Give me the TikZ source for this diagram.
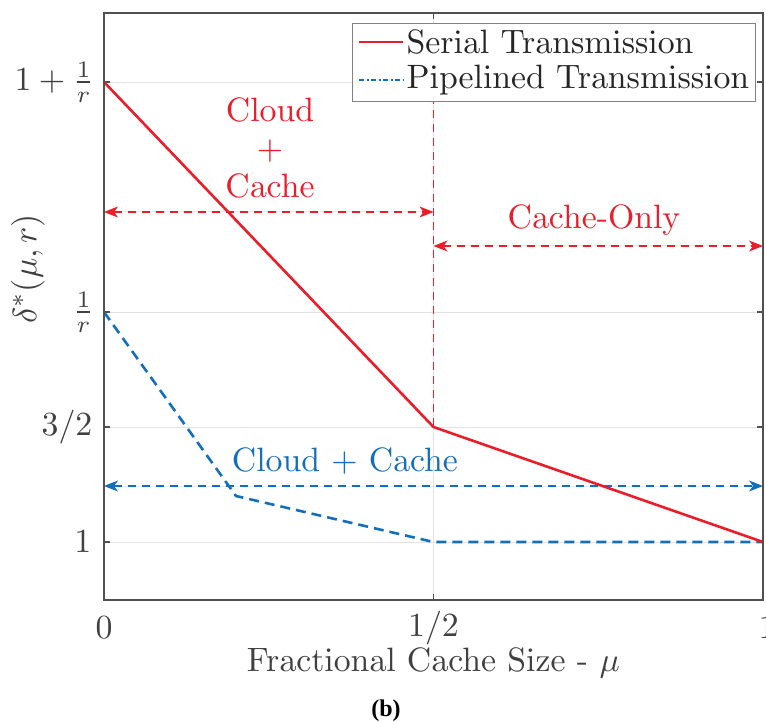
\documentclass[tikz,border=0pt]{standalone}
\usepackage[no-math]{fontspec}
\newfontfamily\capfont{Liberation Serif}
\usetikzlibrary{arrows.meta}

\definecolor{serialred}{RGB}{234,30,42}
\definecolor{pipeblue}{RGB}{20,110,190}
\definecolor{axisgray}{RGB}{80,80,80}
\definecolor{labelgray}{RGB}{64,64,64}
\definecolor{gridgray}{RGB}{226,226,226}
\definecolor{legendgray}{RGB}{130,130,130}

% Computer Modern at its 10pt design size, enlarged as a whole
\newcommand{\plotfont}{\fontencoding{OT1}\fontfamily{cmr}\fontseries{m}\fontshape{n}\fontsize{10}{11.3}\selectfont}

\tikzset{
  big/.style={font=\plotfont, scale=3.38},
  ticklab/.style={big, text=labelgray, inner sep=0pt},
  gridline/.style={draw=gridgray, line width=0.9pt},
  axisline/.style={draw=axisgray, line width=1.2pt},
  tickmark/.style={draw=axisgray, line width=1.2pt},
  serialcurve/.style={draw=serialred, line width=2.6pt, line join=round},
  pipecurve/.style={draw=pipeblue, line width=2.6pt, dash pattern=on 10pt off 6pt, line join=round},
  regionarrow/.style={line width=1.2pt, dash pattern=on 8pt off 6pt,
    {Stealth[length=14pt,width=11pt,inset=4pt]}-{Stealth[length=14pt,width=11pt,inset=4pt]}},
  regionline/.style={line width=1.2pt, dash pattern=on 8pt off 6pt},
}

\begin{document}
\begin{tikzpicture}[x=1pt, y=-1pt]
\useasboundingbox (0,0) rectangle (766,722);

% plot frame corners (pixel-like units, y grows downwards)
\coordinate (BL) at (104,600);
\coordinate (TR) at (763,13);

% grid
\foreach \yy in {82,312,427,542} \draw[gridline] (104,\yy) -- (763,\yy);
\draw[gridline] (433.5,13) -- (433.5,600);

% tick marks (inside, on all four sides)
\foreach \yy in {82,312,427,542} {
  \draw[tickmark] (104,\yy) -- (110,\yy);
  \draw[tickmark] (763,\yy) -- (757,\yy);
}
\draw[tickmark] (433.5,600) -- (433.5,594);
\draw[tickmark] (433.5,13) -- (433.5,19);

% data points
\coordinate (s0) at (104,82);
\coordinate (s1) at (433.5,427);
\coordinate (s2) at (763,542);
\coordinate (p0) at (104,312);
\coordinate (p1) at (236,496);
\coordinate (p2) at (433.5,542);
\coordinate (p3) at (763,542);

% pipelined transmission
\draw[pipecurve] (p0) -- (p1) -- (p2) -- (p3);

% region separator and region arrows
\coordinate (vtop) at (433.5,82);
\draw[regionline, draw=serialred] (vtop) -- (s1);

\coordinate (ra) at (104,212);
\coordinate (rb) at (433.5,212);
\coordinate (rc) at (433.5,246);
\coordinate (rd) at (763,246);
\coordinate (ba) at (104,486);
\coordinate (bb) at (763,486);
\draw[regionarrow, draw=serialred, fill=serialred] (ra) -- (rb);
\draw[regionarrow, draw=serialred, fill=serialred] (rc) -- (rd);
\draw[regionarrow, draw=pipeblue, fill=pipeblue] (ba) -- (bb);

% serial transmission
\draw[serialcurve] (s0) -- (s1) -- (s2);

% region labels
\node[big, text=serialred, align=center, inner sep=0pt] (cloudcache1) at (270,148)
  {Cloud\\$+$\\Cache};
\node[big, text=serialred, inner sep=0pt] (cacheonly) at (594,220) {Cache-Only};
\node[big, text=pipeblue, inner sep=0pt] (cloudcache2) at (345,461) {Cloud $+$ Cache};

% y tick labels
\node[ticklab, anchor=east] (y3) at (95,82) {$1+\frac{1}{r}$};
\node[ticklab, anchor=east] (y2) at (95,312) {$\frac{1}{r}$};
\node[ticklab, anchor=east] (y15) at (93,427) {$3/2$};
\node[ticklab, anchor=east] (y1) at (92,542) {$1$};

% x tick labels
\node[ticklab] (x0) at (104,628) {$0$};
\node[ticklab] (xh) at (433.5,628) {$1/2$};
\node[ticklab] (x1) at (767,628) {$1$};

% axis labels
\node[ticklab] (xlab) at (433.5,663) {Fractional Cache Size - $\mu$};
\node[ticklab, rotate=90] (ylab) at (28,269) {$\delta^*(\mu,r)$};

% frame
\draw[axisline] (BL) rectangle (TR);

% legend
\node[draw=legendgray, line width=1pt, fill=white, minimum width=403pt, minimum height=78pt,
      inner sep=0pt, anchor=north west] (legend) at (352,23) {};
\coordinate (l1a) at (359,42);
\coordinate (l1b) at (403,42);
\coordinate (l2a) at (359,80);
\coordinate (l2b) at (403,80);
\draw[draw=serialred, line width=2.6pt] (l1a) -- (l1b);
\draw[draw=pipeblue, line width=2.6pt, dash pattern=on 5pt off 2.5pt on 2pt off 2.5pt] (l2a) -- (l2b);
\node[big, text=black!85, anchor=west, inner sep=0pt] (leg1) at (406,42) {Serial Transmission};
\node[big, text=black!85, anchor=west, inner sep=0pt] (leg2) at (406,80) {Pipelined Transmission};

% caption
\node[font=\capfont\bfseries\fontsize{24}{28}\selectfont, inner sep=0pt] (cap) at (386,711) {(b)};
\end{tikzpicture}
\end{document}
